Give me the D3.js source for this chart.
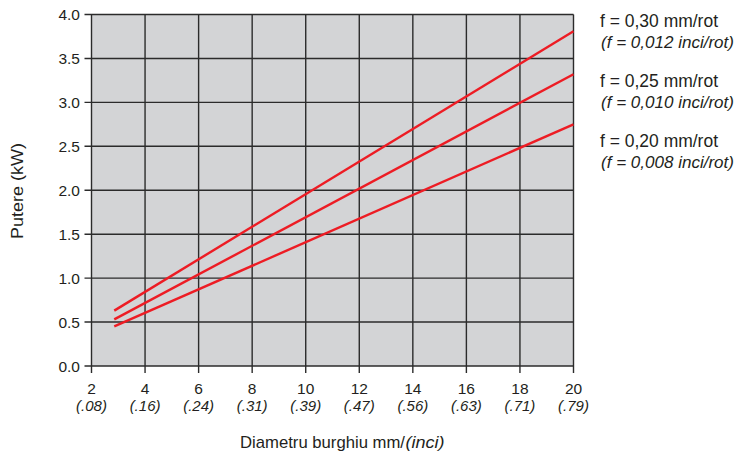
<!DOCTYPE html>
<html><head><meta charset="utf-8">
<script src="https://cdn.jsdelivr.net/npm/d3@7"></script>
<style>body{margin:0;background:#fff}text{font-family:"Liberation Sans",Arial,sans-serif;fill:#231f20}</style>
</head><body><svg id="c" width="740" height="458"></svg>
<script>
const xTicks = [2,4,6,8,10,12,14,16,18,20];
const xTickInch = ["(.08)","(.16)","(.24)","(.31)","(.39)","(.47)","(.56)","(.63)","(.71)","(.79)"];
const yTicks = [0,0.5,1.0,1.5,2.0,2.5,3.0,3.5,4.0];
const diam = [2.85, 20];
const p030 = [0.63, 3.81];
const p025 = [0.53, 3.32];
const p020 = [0.45, 2.75];
const legendMetric = ["f = 0,30 mm/rot","f = 0,25 mm/rot","f = 0,20 mm/rot"];
const legendInch = ["(f = 0,012 inci/rot)","(f = 0,010 inci/rot)","(f = 0,008 inci/rot)"];
const series = [p030,p025,p020];

const svg = d3.select("#c");
const x = d3.scaleLinear().domain([2,20]).range([91.5,573.5]);
const y = d3.scaleLinear().domain([0,4]).range([366,14.5]);

svg.append("rect").attr("x",x(2)).attr("y",y(4)).attr("width",x(20)-x(2)).attr("height",y(0)-y(4)).attr("fill","#d3d4d6");
const g = svg.append("g");
g.selectAll(".vg").data(xTicks).join("line").attr("x1",d=>x(d)).attr("x2",d=>x(d)).attr("y1",y(4)).attr("y2",y(0)+7).attr("stroke","#2b2b2b").attr("stroke-width",1.4);
g.selectAll(".hg").data(yTicks).join("line").attr("x1",x(2)-7).attr("x2",x(20)).attr("y1",d=>y(d)).attr("y2",d=>y(d)).attr("stroke","#2b2b2b").attr("stroke-width",1.4);

svg.selectAll(".yl").data(yTicks).join("text").attr("x",80).attr("y",d=>y(d)+5.5).attr("text-anchor","end").attr("font-size",15.5).text(d=>d.toFixed(1));
svg.selectAll(".xl").data(xTicks).join("text").attr("x",d=>x(d)).attr("y",394).attr("text-anchor","middle").attr("font-size",15.5).text(d=>d);
svg.selectAll(".xi").data(xTicks).join("text").attr("x",(d)=>x(d)).attr("y",411).attr("text-anchor","middle").attr("font-size",15).attr("font-style","italic").text((d,i)=>xTickInch[i]);

const line = d3.line().x((d,i)=>x(diam[i])).y(d=>y(d));
svg.selectAll(".s").data(series).join("path").attr("d",d=>line(d)).attr("fill","none").attr("stroke","#ed1c24").attr("stroke-width",2.4);

svg.append("text").attr("x",240).attr("y",448).attr("font-size",17).attr("textLength",165).attr("lengthAdjust","spacingAndGlyphs").text("Diametru burghiu mm/");
svg.append("text").attr("x",405.5).attr("y",448).attr("font-size",17).attr("font-style","italic").attr("textLength",39).attr("lengthAdjust","spacingAndGlyphs").text("(inci)");
svg.append("text").attr("transform","translate(23,191) rotate(-90)").attr("text-anchor","middle").attr("font-size",17).attr("textLength",96).attr("lengthAdjust","spacingAndGlyphs").text("Putere (kW)");

legendMetric.forEach((m,i)=>{
  svg.append("text").attr("x",600).attr("y",27+i*60).attr("font-size",17.5).attr("textLength",118).attr("lengthAdjust","spacingAndGlyphs").text(m);
  svg.append("text").attr("x",601).attr("y",48+i*60).attr("font-size",16.5).attr("font-style","italic").attr("textLength",133).attr("lengthAdjust","spacingAndGlyphs").text(legendInch[i]);
});
</script></body></html>
